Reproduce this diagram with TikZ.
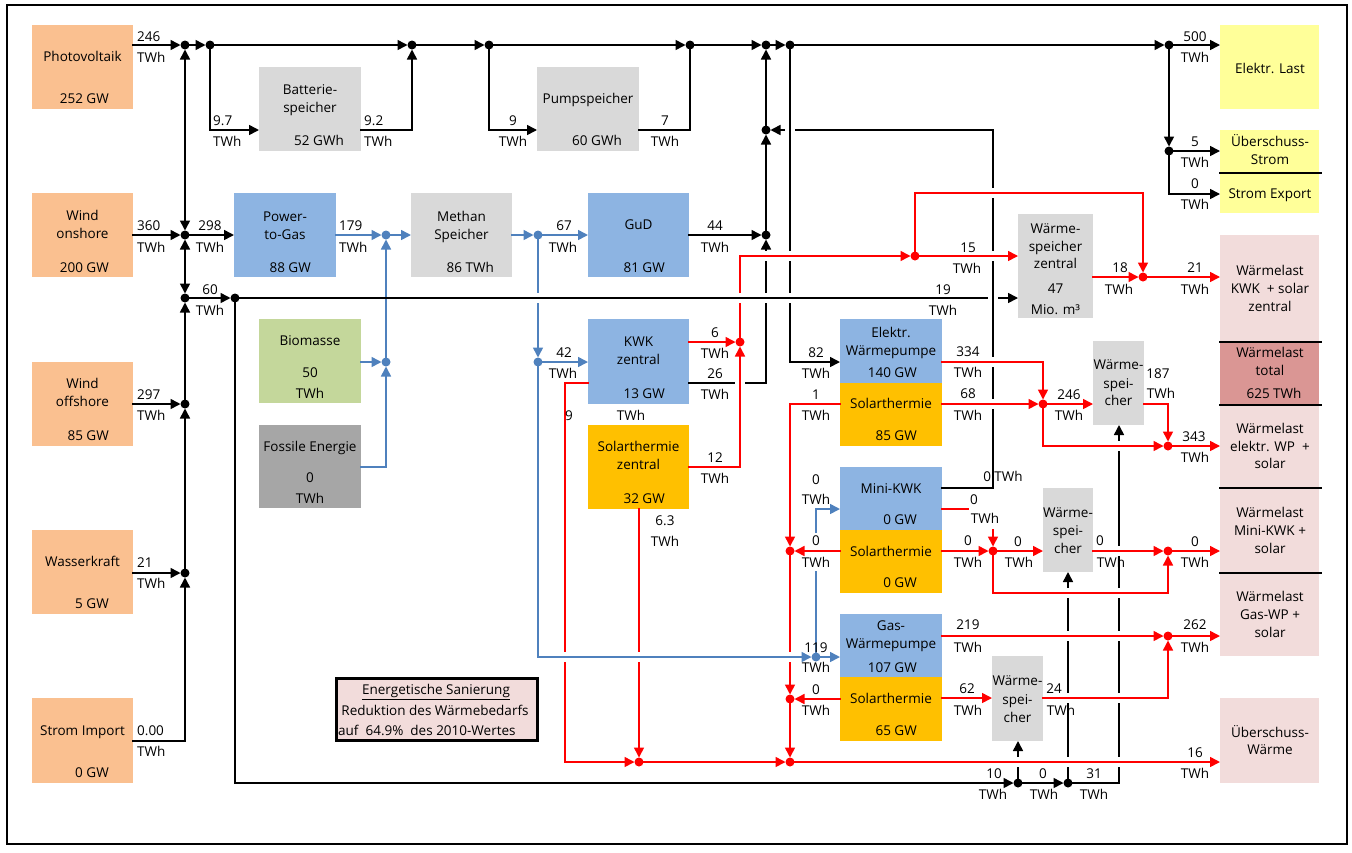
\documentclass[tikz,border=0pt]{standalone}
\usepackage{fontspec}
\setmainfont{Open Sans}
\usetikzlibrary{arrows.meta}
\definecolor{src}{HTML}{FAC090}
\definecolor{bbl}{HTML}{8DB4E2}
\definecolor{lg}{HTML}{D9D9D9}
\definecolor{dg}{HTML}{A6A6A6}
\definecolor{gr}{HTML}{C4D79B}
\definecolor{so}{HTML}{FFC000}
\definecolor{ye}{HTML}{FFFF99}
\definecolor{pk}{HTML}{F2DCDB}
\definecolor{pkd}{HTML}{DA9694}
\definecolor{bln}{HTML}{4F81BD}
\newcounter{tcnt}
\newcommand\fs{\fontsize{13.5pt}{16pt}\selectfont}
\newcommand\mybox[6]{\node[bx,fill=#6,minimum width={(#4-#2)*1pt},minimum height={(#5-#3)*1pt}] (#1) at ({(#2+#4)/2},{(#3+#5)/2}) {};}
\newcommand\tc[3]{\stepcounter{tcnt}\node[tl] (t\arabic{tcnt}) at (#1,#2) {#3};}
\newcommand\tw[3]{\stepcounter{tcnt}\node[tl,anchor=base west] (t\arabic{tcnt}) at (#1,#2) {#3};}
\newcommand\te[3]{\stepcounter{tcnt}\node[tl,anchor=base east] (t\arabic{tcnt}) at (#1,#2) {#3};}
\tikzset{
  bx/.style={rectangle,draw=none,inner sep=0pt,outer sep=0pt},
  tl/.style={font=\fs,inner sep=0pt,anchor=base,yshift=-4.6pt},
  jd/.style={circle,fill=black,inner sep=0pt,outer sep=0pt,minimum size=9pt},
  jr/.style={jd,fill=red},
  jb/.style={jd,fill=bln},
  ln/.style={line width=1.6pt,line cap=rect,line join=miter},
  ar/.style={ln,-{Triangle[length=10pt,width=10pt]}},
  arr2/.style={ln,{Triangle[length=10pt,width=10pt]}-{Triangle[length=10pt,width=10pt]}},
  bk/.style={draw=black},
  rd/.style={draw=red},
  bl/.style={draw=bln,line width=1.4pt},
  over/.style={preaction={draw=white,line width=10pt,arrows=-,line cap=butt,shorten <=#1,shorten >=8pt}},
  over/.default=8pt,
  sep/.style={draw=black,line width=2pt}
}
\begin{document}
\begin{tikzpicture}[x=1pt,y=-1pt]
\useasboundingbox (0,0) rectangle (1352,852);
\draw[line width=2pt] (7,5) rectangle (1347,844);
% boxes
\mybox{pv}{32}{25}{133}{109}{src}
\mybox{won}{32}{193}{133}{277}{src}
\mybox{wof}{32}{362}{133}{446}{src}
\mybox{wk}{32}{530}{133}{614}{src}
\mybox{si}{32}{698}{133}{783}{src}
\mybox{bat}{259}{67}{361}{151}{lg}
\mybox{pump}{537}{67}{639}{151}{lg}
\mybox{ptg}{234}{193}{336}{277}{bbl}
\mybox{meth}{411}{193}{512}{277}{lg}
\mybox{gud}{588}{193}{689}{277}{bbl}
\mybox{bio}{259}{319}{361}{403}{gr}
\mybox{fos}{259}{425}{361}{508}{dg}
\mybox{kwk}{588}{319}{689}{404}{bbl}
\mybox{soz}{588}{425}{689}{509}{so}
\mybox{ewp}{840}{319}{942}{383}{bbl}
\mybox{sew}{840}{383}{942}{446}{so}
\mybox{mk}{840}{467}{942}{530}{bbl}
\mybox{smk}{840}{530}{942}{593}{so}
\mybox{gwp}{840}{614}{942}{677}{bbl}
\mybox{sgw}{840}{677}{942}{741}{so}
\mybox{wsz}{1018}{214}{1093}{318}{lg}
\mybox{wse}{1093}{341}{1144}{425}{lg}
\mybox{wsm}{1043}{488}{1093}{572}{lg}
\mybox{wsg}{992}{656}{1043}{741}{lg}
\mybox{el}{1220}{25}{1319}{109}{ye}
\mybox{us}{1220}{130}{1319}{173}{ye}
\mybox{se}{1220}{173}{1319}{213}{ye}
\mybox{wla}{1220}{235}{1319}{342}{pk}
\mybox{wlt}{1220}{342}{1319}{405}{pkd}
\mybox{wlb}{1220}{405}{1319}{488}{pk}
\mybox{wlc}{1220}{488}{1319}{573}{pk}
\mybox{wld}{1220}{573}{1319}{656}{pk}
\mybox{uw}{1220}{698}{1319}{783}{pk}
\node[bx,draw=black,line width=3pt,fill=pk,minimum width=201pt,minimum height=62pt] (san) at (436.5,709) {};
\draw[sep] ([xshift=-1pt]us.south west) -- ([xshift=3pt]us.south east);
\draw[sep] ([xshift=-1pt]wla.south west) -- ([xshift=3pt]wla.south east);
\draw[sep] ([xshift=-1pt]wlt.south west) -- ([xshift=3pt]wlt.south east);
\draw[sep] ([xshift=-1pt]wlb.south west) -- ([xshift=3pt]wlb.south east);
\draw[sep] ([xshift=-1pt]wlc.south west) -- ([xshift=3pt]wlc.south east);
% junction dots
\node[jd] (j45a) at (185,45) {};
\node[jd] (j45b) at (210,45) {};
\node[jd] (j45c) at (412,45) {};
\node[jd] (j45d) at (489,45) {};
\node[jd] (j45e) at (690,45) {};
\node[jd] (j45f) at (766,45) {};
\node[jd] (j45g) at (790,45) {};
\node[jd] (j45h) at (1169,45) {};
\node[jd] (j235) at (185,235) {};
\node[jd] (j298) at (185,298) {};
\node[jd] (j404) at (185,404) {};
\node[jd] (j573) at (185,573) {};
\node[jd] (k298) at (235,298) {};
\node[jd] (j130) at (766,130) {};
\node[jd] (j235g) at (766,235) {};
\node[jd] (j151) at (1169,151) {};
\node[jd] (b1018) at (1018,783) {};
\node[jd] (b1068) at (1068,783) {};
\node[jb] (q235) at (386,235) {};
\node[jb] (q362) at (386,362) {};
\node[jb] (q538) at (538,235) {};
\node[jb] (q538b) at (538,362) {};
\node[jb] (q657) at (816,657) {};
\node[jr] (r342) at (740,342) {};
\node[jr] (r256) at (915,256) {};
\node[jr] (r277) at (1143,277) {};
\node[jr] (r762a) at (639,762) {};
\node[jr] (r762b) at (790,762) {};
\node[jr] (r551) at (790,551) {};
\node[jr] (r699) at (790,699) {};
\node[jr] (r404) at (1043,404) {};
\node[jr] (r446) at (1168,446) {};
\node[jr] (r551b) at (993,551) {};
\node[jr] (r551c) at (1168,551) {};
\node[jr] (r636) at (1168,636) {};
% corner coordinates
\coordinate (c210) at (210,130);
\coordinate (c412) at (412,130);
\coordinate (c489) at (489,130);
\coordinate (c690) at (690,130);
\coordinate (c790) at (790,362);
\coordinate (c1169) at (1169,194);
\coordinate (c741) at (185,741);
\coordinate (c784) at (235,783);
\coordinate (c1119) at (1119,783);
\coordinate (c766) at (766,383);
\coordinate (c993a) at (993,488);
\coordinate (c993b) at (993,130);
\coordinate (c386) at (386,467);
\coordinate (c538) at (538,657);
\coordinate (c816a) at (816,572);
\coordinate (c816b) at (816,532);
\coordinate (c816c) at (816,509);
\coordinate (c740a) at (740,467);
\coordinate (c740b) at (740,256);
\coordinate (c915) at (915,193);
\coordinate (c1143) at (1143,193);
\coordinate (c565a) at (565,383);
\coordinate (c565b) at (565,762);
\coordinate (c790a) at (790,404);
\coordinate (c1043a) at (1043,362);
\coordinate (c1043b) at (1043,446);
\coordinate (c1168a) at (1168,404);
\coordinate (c968) at (968,509);
\coordinate (c993c) at (993,530);
\coordinate (c993d) at (993,593);
\coordinate (c1168b) at (1168,593);
\coordinate (c1168c) at (1168,698);
% ---- black electricity lines
\draw[bk,ar] (pv.east|-j45a) -- (j45a);
\draw[bk,ar] (j45a) -- (j45b);
\draw[bk,ar] (j45b) -- (j45c);
\draw[bk,ar] (j45c) -- (j45d);
\draw[bk,ar] (j45d) -- (j45e);
\draw[bk,ar] (j45e) -- (j45f);
\draw[bk,ar] (j45f) -- (j45g);
\draw[bk,ar] (j45g) -- (j45h);
\draw[bk,ar] (j45h) -- (j45h-|el.west);
\draw[bk,ar] (j45b) -- (c210) -- (c210-|bat.west);
\draw[bk,ar] (bat.east|-c412) -- (c412) -- (j45c);
\draw[bk,ar] (j45d) -- (c489) -- (c489-|pump.west);
\draw[bk,ln] (pump.east|-c690) -- (c690) -- (j45e);
\draw[bk,ar] (j45h) -- (j151);
\draw[bk,ar] (j151) -- (j151-|us.west);
\draw[bk,ar] (j151) -- (c1169) -- (c1169-|se.west);
\draw[bk,ar] (won.east|-j235) -- (j235);
\draw[bk,arr2] (j235) -- (j45a);
\draw[bk,arr2] (j298) -- (j235);
\draw[bk,ar] (j404) -- (j298);
\draw[bk,ar] (wof.east|-j404) -- (j404);
\draw[bk,ar] (j573) -- (j404);
\draw[bk,ar] (wk.east|-j573) -- (j573);
\draw[bk,ar] (si.east|-c741) -- (c741) -- (j573);
\draw[bk,ar] (j235) -- (j235-|ptg.west);
\draw[bk,ar] (j298) -- (k298);
\draw[bk,ar] (c993b) -- (j130);
\draw[bk,ar,over] (j45g) -- (c790) -- (c790-|ewp.west);
\draw[bk,ar] (kwk.east|-c766) -- (c766) -- (j235g);
\draw[bk,ar] (gud.east|-j235g) -- (j235g);
\draw[bk,ar] (j235g) -- (j130);
\draw[bk,ar] (j130) -- (j45f);
% red central heat (lower part)
\draw[rd,ar] (kwk.east|-r342) -- (r342);
\draw[rd,ar,over] (soz.east|-c740a) -- (c740a) -- (r342);
\draw[rd,ln] (r342) -- (c740b);
% blue gas
\draw[bl,ar] (ptg.east|-q235) -- (q235);
\draw[bl,ar] (q235) -- (q235-|meth.west);
\draw[bl,ar] (bio.east|-q362) -- (q362);
\draw[bl,ar] (q362) -- (q235);
\draw[bl,ar] (fos.east|-c386) -- (c386) -- (q362);
\draw[bl,ar] (meth.east|-q538) -- (q538);
\draw[bl,ar] (q538) -- (q538-|gud.west);
\draw[bl,ar] (q538) -- (q538b);
\draw[bl,ar] (q538b) -- (q538b-|kwk.west);
% red verticals under the blue line
\draw[rd,ar] (kwk.west|-c565a) -- (c565a) -- (c565b) -- (r762a);
\draw[rd,ar] (soz.south-|r762a) -- (r762a);
\draw[rd,ar] (sew.west|-c790a) -- (c790a) -- (r551);
\draw[rd,ar] (smk.west|-r551) -- (r551);
\draw[rd,ar] (r551) -- (r699);
\draw[rd,ar] (sgw.west|-r699) -- (r699);
\draw[rd,ar] (r699) -- (r762b);
\draw[rd,ar] (r762a) -- (r762b);
\draw[bl,ar,over] (q538b) -- (c538) -- (q657);
\draw[bl,ar] (q657) -- (q657-|gwp.west);
\draw[bl,ln] (q657) -- (c816a);
\draw[bl,ar] (c816b) -- (c816c) -- (c816c-|mk.west);
% black 60 TWh line and bottom line
\draw[bk,ar,over=200pt] (k298) -- (k298-|wsz.west);
\draw[bk,ar] (k298) -- (c784) -- (b1018);
\draw[bk,ar] (b1018) -- (b1068);
\draw[bk,ar] (b1068) -- (c1119) -- (c1119|-wse.south);
\draw[bk,ar] (b1018) -- (b1018|-wsg.south);
\draw[bk,ar] (b1068) -- (b1068|-wsm.south);
\draw[bk,ln,over] (mk.east|-c993a) -- (c993a) -- (c993b);
% red heat lines on top
\draw[rd,ar,over] (c740b) -- (r256);
\draw[rd,ar,over] (r256) -- (r256-|wsz.west);
\draw[rd,ar,over] (r256) -- (c915) -- (c1143) -- (r277);
\draw[rd,ar] (wsz.east|-r277) -- (r277);
\draw[rd,ar] (r277) -- (r277-|wla.west);
\draw[rd,ar,over] (ewp.east|-c1043a) -- (c1043a) -- (r404);
\draw[rd,ar,over] (sew.east|-r404) -- (r404);
\draw[rd,ar] (r404) -- (r404-|wse.west);
\draw[rd,ar,over] (r404) -- (c1043b) -- (r446);
\draw[rd,ar] (wse.east|-c1168a) -- (c1168a) -- (r446);
\draw[rd,ar] (r446) -- (r446-|wlb.west);
\draw[rd,ln] (mk.east|-c968) -- (c968);
\draw[rd,ar] (c993c) -- (r551b);
\draw[rd,ar] (smk.east|-r551b) -- (r551b);
\draw[rd,ar] (r551b) -- (r551b-|wsm.west);
\draw[rd,ar,over] (r551b) -- (c993d) -- (c1168b) -- (r551c);
\draw[rd,ar,over] (wsm.east|-r551c) -- (r551c);
\draw[rd,ar] (r551c) -- (r551c-|wlc.west);
\draw[rd,ar,over] (gwp.east|-r636) -- (r636);
\draw[rd,ar] (r636) -- (r636-|wld.west);
\draw[rd,ar] (sgw.east|-c1168c) -- (wsg.west|-c1168c);
\draw[rd,ar,over] (wsg.east|-c1168c) -- (c1168c) -- (r636);
\draw[rd,ar,over] (r762b) -- (r762b-|uw.west);
% ---- box texts
\tc{82.5}{57}{Photovoltaik}\te{109}{99}{252 GW}
\tc{82.5}{216}{Wind}\tc{82.5}{234}{onshore}\te{109}{268}{200 GW}
\tc{82.5}{384}{Wind}\tc{82.5}{402}{offshore}\te{109}{436}{85 GW}
\tc{82.5}{562}{Wasserkraft}\te{109}{604}{5 GW}
\tc{82.5}{731}{Strom Import}\te{109}{773}{0 GW}
\tc{310}{90}{Batterie-}\tc{310}{108}{speicher}\te{344}{141}{52 GWh}
\tc{588}{99}{Pumpspeicher}\te{622}{141}{60 GWh}
\tc{285}{217}{Power-}\tc{285}{235}{to-Gas}\te{311}{268}{88 GW}
\tc{461.5}{217}{Methan}\tc{461.5}{235}{Speicher}\te{494}{268}{86 TWh}
\tc{638.5}{225}{GuD}\te{665}{268}{81 GW}
\tc{310}{341}{Biomasse}\tc{310}{373}{50}\tc{310}{394}{TWh}
\tc{310}{447}{Fossile Energie}\tc{310}{478}{0}\tc{310}{499}{TWh}
\tc{638.5}{342}{KWK}\tc{638.5}{360}{zentral}\te{665}{394}{13 GW}
\tc{638.5}{447}{Solarthermie}\tc{638.5}{465}{zentral}\te{665}{499}{32 GW}
\tc{891}{333}{Elektr.}\tc{891}{351}{Wärmepumpe}\te{917}{373}{140 GW}
\tc{891}{404}{Solarthermie}\te{917}{436}{85 GW}
\tc{891}{489}{Mini-KWK}\te{917}{520}{0 GW}
\tc{891}{552}{Solarthermie}\te{917}{583}{0 GW}
\tc{891}{626}{Gas-}\tc{891}{644}{Wärmepumpe}\te{917}{668}{107 GW}
\tc{891}{699}{Solarthermie}\te{917}{731}{65 GW}
\tc{1055.5}{229}{Wärme-}\tc{1055.5}{247}{speicher}\tc{1055.5}{264}{zentral}\tc{1055.5}{289}{47}\tc{1055.5}{310}{Mio. m³}
\tc{1118.5}{365}{Wärme-}\tc{1118.5}{384}{spei-}\tc{1118.5}{401}{cher}
\tc{1068}{513}{Wärme-}\tc{1068}{531}{spei-}\tc{1068}{549}{cher}
\tc{1017.5}{681}{Wärme-}\tc{1017.5}{700}{spei-}\tc{1017.5}{718}{cher}
\tc{1270}{69}{Elektr. Last}
\tc{1270}{142}{Überschuss-}\tc{1270}{160}{Strom}
\tc{1270}{194}{Strom Export}
\tc{1270}{271}{Wärmelast}\tc{1270}{289}{KWK\ \ + solar}\tc{1270}{307}{zentral}
\tc{1270}{353}{Wärmelast}\tc{1270}{371}{total}\tc{1274}{394}{625 TWh}
\tc{1270}{429}{Wärmelast}\tc{1270}{447}{elektr. WP\ \ +}\tc{1270}{464}{solar}
\tc{1270}{513}{Wärmelast}\tc{1270}{531}{Mini-KWK +}\tc{1270}{549}{solar}
\tc{1270}{597}{Wärmelast}\tc{1270}{615}{Gas-WP +}\tc{1270}{633}{solar}
\tc{1270}{733}{Überschuss-}\tc{1270}{750}{Wärme}
\tc{436}{690}{\underline{Energetische Sanierung}}
\tc{435}{711}{Reduktion des Wärmebedarfs}
\tw{338}{731}{auf\ \ 64.9\%\ \ des 2010-Wertes}
% ---- flow labels
\tw{137}{37}{246}\tw{137}{58}{TWh}
\tw{137}{226}{360}\tw{137}{248}{TWh}
\tw{137}{395}{297}\tw{137}{416}{TWh}
\tw{137}{563}{21}\tw{137}{584}{TWh}
\tw{137}{731}{0.00}\tw{137}{752}{TWh}
\tw{213}{121}{9.7}\tw{213}{142}{TWh}
\tw{364}{121}{9.2}\tw{364}{142}{TWh}
\tw{339}{226}{179}\tw{339}{248}{TWh}
\tc{210}{290}{60}\tc{210}{311}{TWh}
\tc{210}{226}{298}\tc{210}{248}{TWh}
\tc{513}{121}{9}\tc{513}{142}{TWh}
\tc{665}{121}{7}\tc{665}{142}{TWh}
\tc{564}{226}{67}\tc{563}{248}{TWh}
\tc{715}{226}{44}\tc{715}{248}{TWh}
\tc{1195}{37}{500}\tc{1195}{58}{TWh}
\tc{1195}{142}{5}\tc{1195}{163}{TWh}
\tc{1195}{184}{0}\tc{1195}{205}{TWh}
\tc{968}{248}{15}\tc{967}{269}{TWh}
\tc{943}{290}{19}\tc{943}{311}{TWh}
\tc{1120}{268}{18}\tc{1119}{290}{TWh}
\tc{1195}{268}{21}\tc{1195}{290}{TWh}
\tc{564}{353}{42}\tc{563}{374}{TWh}
\tc{715}{333}{6}\tc{715}{354}{TWh}
\tc{715}{374}{26}\tc{715}{395}{TWh}
\tc{569}{416}{9}\tc{631}{416}{TWh}
\tc{715}{458}{12}\tc{715}{479}{TWh}
\tc{665}{521}{6.3}\tc{665}{542}{TWh}
\tc{816}{353}{82}\tc{816}{374}{TWh}
\tc{816}{395}{1}\tc{816}{416}{TWh}
\tc{816}{480}{0}\tc{816}{500}{TWh}
\tc{816}{541}{0}\tc{816}{563}{TWh}
\tc{816}{648}{119}\tc{816}{668}{TWh}
\tc{816}{690}{0}\tc{816}{711}{TWh}
\tc{968}{352}{334}\tc{968}{373}{TWh}
\tc{968}{394}{68}\tc{968}{416}{TWh}
\tc{1069}{395}{246}\tc{1069}{416}{TWh}
\tc{1158}{374}{187}\tc{1161}{394}{TWh}
\tc{1194}{437}{343}\tc{1195}{458}{TWh}
\tc{1003}{477}{0 TWh}
\tc{974}{500}{0}\tc{985}{519}{TWh}
\tc{968}{541}{0}\tc{968}{563}{TWh}
\tc{1018}{542}{0}\tc{1019}{563}{TWh}
\tc{1100}{541}{0}\tc{1111}{563}{TWh}
\tc{1195}{542}{0}\tc{1195}{563}{TWh}
\tc{968}{625}{219}\tc{968}{648}{TWh}
\tc{1195}{625}{262}\tc{1195}{648}{TWh}
\tc{967}{689}{62}\tc{968}{711}{TWh}
\tc{1054}{689}{24}\tc{1061}{711}{TWh}
\tc{1195}{753}{16}\tc{1195}{774}{TWh}
\tc{994}{774}{10}\tc{993}{795}{TWh}
\tc{1043}{774}{0}\tc{1044}{795}{TWh}
\tc{1094}{774}{31}\tc{1094}{795}{TWh}
\end{tikzpicture}
\end{document}
